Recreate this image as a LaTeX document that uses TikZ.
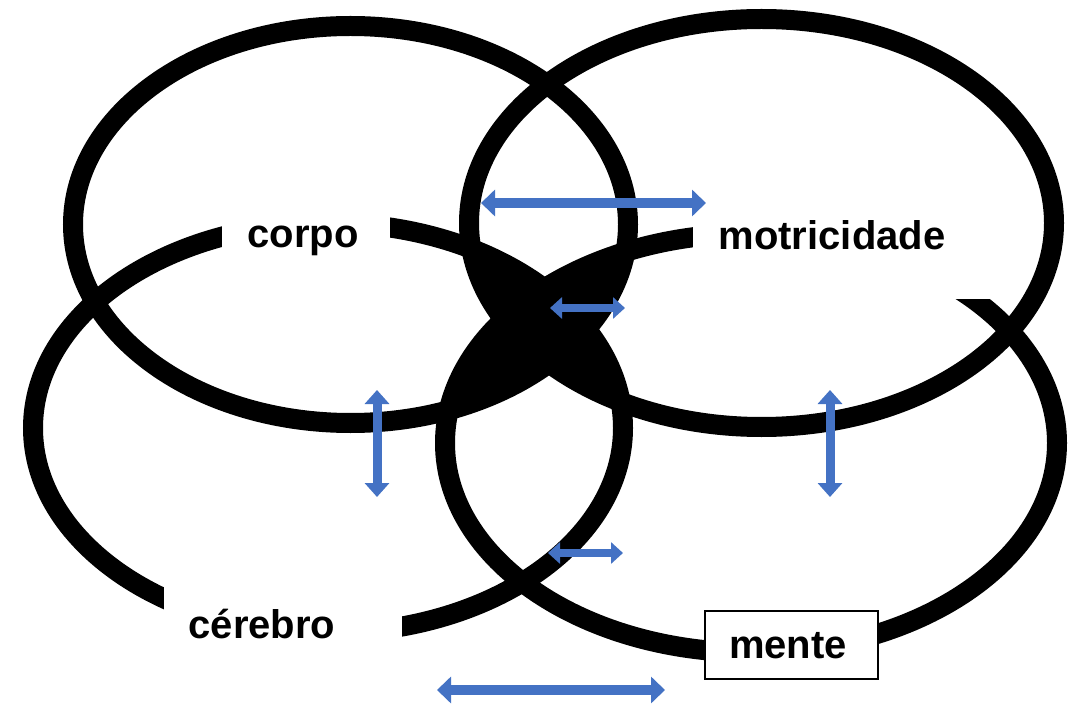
\documentclass[tikz,border=0pt]{standalone}
\usepackage{fontspec}
\setmainfont{Liberation Sans}
\usetikzlibrary{arrows.meta}
\definecolor{arrowblue}{RGB}{68,114,196}
\begin{document}
\begin{tikzpicture}[x=1pt,y=-1pt,
  ring/.style={draw=black, line width=20pt},
  gapbox/.style={fill=white, draw=none, inner sep=0pt},
  mentebox/.style={fill=white, draw=black, line width=1.6pt, inner sep=0pt},
  lbl/.style={font=\fontsize{40}{48}\selectfont\bfseries, inner sep=0pt, text=black},
  duo/.style={arrowblue, line width=10pt, {Triangle[width=26pt,length=14pt]}-{Triangle[width=26pt,length=14pt]}},
  duov/.style={arrowblue, line width=9pt, {Triangle[width=24pt,length=14pt]}-{Triangle[width=24pt,length=14pt]}},
  duosmall/.style={arrowblue, line width=8pt, {Triangle[width=21pt,length=12pt]}-{Triangle[width=21pt,length=12pt]}}
]
\fill[white] (0,0) rectangle (1079,711);
\useasboundingbox (0,0) rectangle (1079,711);

% ellipse centres
\coordinate (cTL) at (350.5,224.5);
\coordinate (cTR) at (761.5,223);
\coordinate (cBL) at (328,428);
\coordinate (cBR) at (751,443);

\def\eTL{(cTL) ellipse [x radius=277.5pt, y radius=198.5pt]}
\def\eTR{(cTR) ellipse [x radius=292.5pt, y radius=204pt]}
\def\eBL{(cBL) ellipse [x radius=295pt, y radius=205pt]}
\def\eBR{(cBR) ellipse [x radius=306pt, y radius=209.5pt]}

% regions shared by three ellipses, filled black
\begin{scope}\clip \eTL; \clip \eTR; \fill[black] \eBL; \end{scope}
\begin{scope}\clip \eTL; \clip \eTR; \fill[black] \eBR; \end{scope}
\begin{scope}\clip \eBL; \clip \eBR; \fill[black] \eTL; \end{scope}
\begin{scope}\clip \eBL; \clip \eBR; \fill[black] \eTR; \end{scope}

% the four ellipses
\draw[ring] \eTL;
\draw[ring] \eTR;
\draw[ring] \eBL;
\draw[ring] \eBR;

% gaps for the labels
\node[gapbox, minimum width=168pt, minimum height=63pt] (corpoGap) at (306,236.5) {};
\node[gapbox, minimum width=307pt, minimum height=86pt] (motGap) at (846.5,256) {};
\node[gapbox, minimum width=238pt, minimum height=90pt] (cerGap) at (283,620) {};
\node[mentebox, minimum width=173pt, minimum height=68pt] (menteBox) at (791.5,645) {};

% labels
\node[lbl, anchor=base] (corpo) at (303,248) {corpo};
\node[lbl, anchor=base] (motricidade) at (832,250) {motricidade};
\node[lbl, anchor=base] (cerebro) at (262,638) {cérebro};
\node[lbl, anchor=base] (mente) at (788,658) {mente};

% arrow end points
\coordinate (a1l) at (481,203);  \coordinate (a1r) at (706,203);
\coordinate (a2l) at (550,308);  \coordinate (a2r) at (625,308);
\coordinate (a3t) at (377,390);  \coordinate (a3b) at (377,497);
\coordinate (a4t) at (830,390);  \coordinate (a4b) at (830,497);
\coordinate (a5l) at (548,553);  \coordinate (a5r) at (623,553);
\coordinate (a6l) at (437,690);  \coordinate (a6r) at (665,690);

% blue double arrows
\draw[duo] (a1l) -- (a1r);
\draw[duosmall] (a2l) -- (a2r);
\draw[duov] (a3t) -- (a3b);
\draw[duov] (a4t) -- (a4b);
\draw[duosmall] (a5l) -- (a5r);
\draw[duo] (a6l) -- (a6r);
\end{tikzpicture}
\end{document}
